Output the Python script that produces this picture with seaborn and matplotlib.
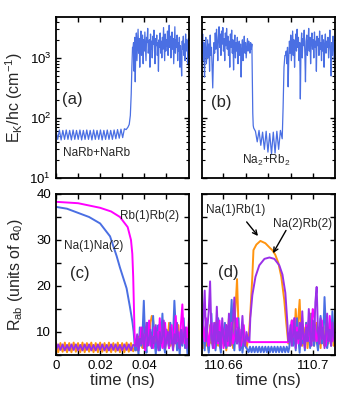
import numpy as np
import pandas as pd
import matplotlib
matplotlib.use("Agg")
import matplotlib.pyplot as plt
import seaborn as sns
from matplotlib.ticker import FixedLocator, MultipleLocator, LogLocator, NullFormatter

# %% data
# (a) kinetic energy, start of the run (cm^-1)
ek_a_low = [62, 44, 63, 43, 62, 44, 63, 44, 62, 43, 63, 44, 62, 44, 63, 43, 62, 44, 63, 44,
            62, 43, 63, 44, 62, 44, 63, 43, 62, 44, 63, 44, 62, 44, 63, 45, 64, 46, 65, 47, 66]
ek_a_rise_t = [0.0318, 0.0326, 0.0332, 0.0337, 0.0341, 0.0344, 0.0347]
ek_a_rise = [64, 70, 78, 110, 250, 700, 1500]
ek_a_high = [1400, 1800, 600, 2200, 400, 1500, 2600, 900, 1700, 3000, 1200, 2100, 700, 1900, 2800,
             1100, 1600, 2400, 800, 2000, 1300, 2700, 1500, 900, 2200, 1800, 3100, 1200, 1600, 2000,
             700, 2500, 1400, 1900, 1000, 2300, 1700, 2900, 1300, 800, 2100, 1600, 2400, 1100, 1800,
             600, 2000, 1500, 2600, 1200, 1900, 1000, 2200, 1400, 3200, 1700, 900, 2500, 1300, 2000,
             1600, 2800, 1100, 1800, 3500, 1500, 2300, 1000, 1900, 2700, 1400, 2100, 800, 1700, 3300,
             1200, 2000, 1500, 2400, 900, 1800, 1300, 2200, 700, 1600, 1000, 500, 1900, 1400, 2300,
             1100, 1700, 900, 2500, 1300, 2000, 1600, 800, 2100, 1500]

# (b) kinetic energy around 110.68 ns
ek_b_high1 = [1200, 2500, 900, 1800, 480, 1500, 2200, 800, 1300, 2000, 1000,
              1700, 600, 2400, 1100, 1500, 700, 316, 900, 1800, 1200,
              2600, 1400, 3000, 1800, 900, 2200, 3300, 1500, 2500, 1100, 2800, 1700, 3200, 1300, 2100,
              900, 2600, 1600, 3100, 1400,
              2300, 1100, 1900, 700, 2500, 1500, 2900, 1200, 2000, 630, 1600, 2400, 1000, 1800, 1300,
              2200, 800, 1500, 1900, 1100,
              1700, 480, 1400, 2000, 900, 1600, 2300, 1200, 1800, 1000, 1500, 2100, 1300, 1900, 1600,
              1200, 1800, 1400, 1700]
ek_b_drop_t = [110.6729, 110.6731, 110.6733]
ek_b_drop = [400, 120, 75]
ek_b_low = [68, 60, 40, 62, 35, 58, 30, 60, 27, 55, 25, 58, 26, 60, 30, 62, 45]
ek_b_rise_t = [110.6866, 110.6870, 110.6874]
ek_b_rise = [150, 700, 1100]
ek_b_high2 = [1100, 1300, 800, 1500, 330, 1000, 1900, 1200, 2400, 900,
              1600, 2800, 1100, 2000, 700, 1700, 2500, 1300, 3000, 1500,
              2200, 900, 1800, 207, 1400, 2600, 1000, 2100, 1600, 2900,
              1200, 400, 1900, 2400, 1100, 1700, 3100, 1300, 2200, 800,
              1800, 2600, 1400, 2000, 1000, 2700, 1500, 1900, 600, 2300,
              1600, 2100, 1100, 2800, 1400, 1800, 900, 2400, 1300, 2000,
              700, 1700, 2500, 1200, 1900, 1500, 2200, 1000, 1600, 2900,
              1300, 500, 1800, 1100, 2300, 1500, 900, 2000]

# (c) pair distances, start of the run (a0)
blue_c_drop_t = [0, 0.005, 0.010, 0.015, 0.020, 0.0245, 0.0275, 0.029, 0.031, 0.032, 0.0335,
                 0.0347, 0.0352, 0.0356, 0.0359]
blue_c_drop = [37.2, 36.8, 35.9, 35.0, 33.6, 30.8, 26.5, 24.0, 21.0, 19.5, 15.5, 12.0, 10.0, 7.5, 6.0]
magenta_c_drop_t = [0, 0.010, 0.020, 0.025, 0.029, 0.0325, 0.034, 0.0346, 0.035, 0.0353, 0.0356, 0.0359]
magenta_c_drop = [38.3, 38.0, 37.0, 36.2, 35.0, 32.8, 30.0, 27.0, 22.0, 16.0, 10.0, 7.0]
orange_c_zig = [7.7, 5.6, 7.6, 5.7, 7.7, 5.6, 7.6, 5.6, 7.7, 5.7, 7.6, 5.6, 7.7, 5.6, 7.6, 5.7, 7.7, 5.6,
                7.6, 5.6, 7.7, 5.7, 7.6, 5.6, 7.7, 5.6, 7.6, 5.7, 7.7, 5.6, 7.6, 5.6, 7.7, 5.7, 7.6, 5.8]
purple_c_zig = [6.0, 7.3, 6.1, 7.3, 6.0, 7.2, 6.0, 7.3, 6.1, 7.3, 6.0, 7.2, 6.0, 7.3, 6.1, 7.3, 6.0, 7.2,
                6.0, 7.3, 6.1, 7.3, 6.0, 7.2, 6.0, 7.3, 6.1, 7.3, 6.0, 7.2, 6.0, 7.3, 6.1, 7.3, 6.0, 7.2]
blue_c_noise = [6.0, 8.5, 5.0, 11.0, 7.0, 9.5, 16.8, 8.0, 5.5, 12.0, 7.5, 10.0, 6.5, 13.5, 8.0, 5.2, 9.0,
                11.5, 6.0, 8.5, 14.0, 7.0, 5.5, 10.5, 8.0, 6.5, 12.0, 7.5, 9.0, 16.8, 11.0, 6.0, 8.5,
                5.0, 10.0, 7.0, 13.0, 6.5, 9.0, 4.5, 8.0]
magenta_c_noise = [7.0, 9.0, 6.5, 8.0, 11.0, 7.5, 9.5, 6.0, 10.5, 8.0, 12.5, 7.0, 9.0, 6.5, 11.0, 8.5,
                   10.0, 7.0, 13.0, 8.0, 6.5, 9.5, 12.0, 7.5, 10.0, 6.5, 8.5, 11.5, 7.0, 9.0, 13.5, 8.0,
                   10.0, 7.0, 12.0, 16.0, 9.0, 7.5, 11.0, 8.0, 13.0]
orange_c_noise = [7.5, 6.0, 9.0, 7.0, 10.5, 6.5, 8.0, 11.0, 7.0, 9.5, 8.0, 12.0, 13.5, 12.5, 9.0, 7.0,
                  10.0, 6.5, 8.5, 11.0, 7.5, 9.0, 6.0, 10.5, 8.0, 12.0, 7.0, 9.5, 6.5, 8.0, 10.0, 7.5,
                  11.5, 6.5, 9.0, 8.0, 10.5, 7.0, 9.5, 6.5, 8.0]
purple_c_noise = [7.0, 9.5, 6.0, 8.5, 7.5, 11.0, 6.5, 9.0, 12.0, 7.0, 8.5, 10.5, 6.5, 9.0, 7.5, 11.5,
                  8.0, 6.0, 10.0, 7.5, 9.0, 12.5, 6.5, 8.0, 10.0, 7.0, 11.0, 8.5, 6.0, 9.5, 7.5, 12.0,
                  8.0, 6.5, 10.5, 7.5, 9.0, 11.0, 6.5, 8.5, 7.0]

# (d) pair distances around 110.68 ns
orange_d_pre = [8.0, 6.5, 10.0, 7.0, 9.0, 6.0, 11.5, 7.5, 8.5, 6.5, 12.0, 8.0, 7.0, 10.5, 6.5, 9.0,
                7.5, 11.0, 6.0, 8.5, 13.0, 7.0, 9.5, 6.5, 12.0, 16.0, 21.5, 12.0, 8.0, 6.5, 10.0, 7.5,
                9.0, 6.5, 8.0]
purple_d_pre = [9.0, 13.0, 19.0, 8.0, 11.0, 14.5, 21.0, 9.5, 6.5, 12.0, 7.5, 15.5, 8.0, 10.0, 6.5, 13.0,
                9.0, 7.0, 11.5, 8.0, 14.0, 7.0, 10.0, 12.5, 17.5, 9.0, 7.5, 11.0, 6.5, 9.0, 13.5, 8.0,
                7.0, 10.0, 8.5]
blue_d_pre = [7.5, 10.0, 6.0, 12.5, 8.0, 5.5, 9.5, 14.0, 7.0, 11.0, 6.0, 8.5, 13.0, 7.5, 5.5, 10.0,
              8.0, 12.0, 6.5, 9.0, 7.0, 11.5, 17.0, 8.5, 6.0, 10.5, 7.5, 13.0, 6.0, 9.0, 5.5, 8.0,
              7.0, 6.5, 6.0]
magenta_d_pre = [12.5, 11.0, 8.0, 13.0, 9.5, 7.0, 10.5, 12.0, 8.0, 6.5, 11.0, 9.0, 7.5, 12.5, 8.5, 10.0,
                 6.5, 9.5, 11.5, 7.0, 10.0, 8.5, 12.0, 7.5, 9.0, 11.0, 13.0, 8.0, 10.5, 7.0, 9.5, 11.5,
                 8.0, 9.0, 8.0]
orange_d_hump_t = [110.6712, 110.6720, 110.6729, 110.6734, 110.6747, 110.6765, 110.6787, 110.6809,
                   110.6818, 110.6831, 110.6845, 110.6858, 110.6871, 110.6880, 110.6889]
orange_d_hump = [8.0, 14.0, 22.0, 27.8, 29.0, 29.8, 29.3, 28.2, 27.8, 26.8, 25.0, 22.0, 17.0, 12.0, 7.5]
purple_d_hump_t = [110.6716, 110.6720, 110.6729, 110.6743, 110.6760, 110.6783, 110.6805, 110.6827,
                   110.6849, 110.6863, 110.6876, 110.6885, 110.6889]
purple_d_hump = [8.0, 13.0, 18.0, 22.0, 24.5, 25.9, 26.2, 25.9, 24.5, 22.5, 18.5, 12.0, 8.0]
magenta_d_flat_t = [110.6716, 110.6889]
magenta_d_flat = [7.8, 7.8]
blue_d_zig = [5.6, 6.8, 5.6, 6.8, 5.6, 6.8, 5.6, 6.8, 5.6, 6.8, 5.6, 6.8, 5.6, 6.8, 5.6, 6.8,
              5.6, 6.8, 5.6, 6.8, 5.6, 6.8, 5.6, 6.8, 5.6, 6.8, 5.6]
orange_d_post = [7.5, 10.0, 8.0, 12.5, 9.0, 15.0, 10.0, 13.0, 17.0, 9.5, 7.0, 11.0, 8.0, 12.0, 6.5, 9.5,
                 14.0, 8.0, 10.5, 7.0, 9.0, 12.0, 7.5, 10.0, 6.5, 11.5, 8.5, 7.0, 13.0, 9.0, 7.5, 10.5,
                 8.0, 12.0, 7.0, 9.0]
purple_d_post = [8.0, 11.5, 7.0, 9.5, 13.0, 6.5, 10.0, 8.5, 12.0, 7.0, 14.5, 9.0, 6.5, 11.0, 8.0, 15.0,
                 9.5, 7.0, 12.5, 8.0, 16.5, 19.8, 10.0, 7.5, 13.0, 8.5, 11.0, 6.5, 9.5, 14.0, 8.0, 10.5,
                 7.0, 12.0, 9.0, 8.0]
blue_d_post = [6.5, 9.0, 12.5, 7.0, 10.0, 6.0, 13.0, 8.5, 5.5, 11.0, 7.5, 9.5, 6.0, 12.0, 8.0, 10.5,
               6.5, 14.0, 9.0, 7.0, 11.5, 8.0, 6.0, 10.0, 13.5, 7.5, 9.0, 17.6, 11.0, 6.5, 8.5, 12.0,
               7.0, 14.5, 9.0, 7.5]
magenta_d_post = [8.0, 10.5, 12.5, 9.0, 13.0, 8.0, 11.0, 7.5, 10.0, 12.0, 8.5, 9.5, 7.0, 11.5, 9.0, 12.5,
                  8.0, 10.5, 15.0, 14.0, 9.5, 8.0, 11.0, 7.5, 10.0, 12.5, 8.5, 9.0, 7.0, 11.0, 8.0, 13.5,
                  9.5, 8.0, 10.5, 9.0]

pairs = ["Na(1)Rb(1)", "Na(1)Na(2)", "Rb(1)Rb(2)", "Na(2)Rb(2)"]
colors = {"Na(1)Rb(1)": "#ff9410", "Na(1)Na(2)": "#4a6fe3",
          "Rb(1)Rb(2)": "#ff00ff", "Na(2)Rb(2)": "#9a30e8"}


def span(start, stop, vals):
    return list(np.linspace(start, stop, len(vals)))


# %% assemble long tables
ek_a = pd.DataFrame({
    "t": span(0, 0.0310, ek_a_low) + ek_a_rise_t + span(0.0349, 0.0603, ek_a_high),
    "ek": ek_a_low + ek_a_rise + ek_a_high,
})
ek_b = pd.DataFrame({
    "t": span(110.6505, 110.6727, ek_b_high1) + ek_b_drop_t + span(110.6735, 110.6862, ek_b_low)
         + ek_b_rise_t + span(110.6877, 110.7097, ek_b_high2),
    "ek": ek_b_high1 + ek_b_drop + ek_b_low + ek_b_rise + ek_b_high2,
})

noise_c_t = (0.0362, 0.0603)
rows_c = []
for name, t, r in [
    ("Na(1)Rb(1)", span(0, 0.035, orange_c_zig) + span(*noise_c_t, orange_c_noise), orange_c_zig + orange_c_noise),
    ("Na(1)Na(2)", blue_c_drop_t + span(*noise_c_t, blue_c_noise), blue_c_drop + blue_c_noise),
    ("Rb(1)Rb(2)", magenta_c_drop_t + span(*noise_c_t, magenta_c_noise), magenta_c_drop + magenta_c_noise),
    ("Na(2)Rb(2)", span(0, 0.035, purple_c_zig) + span(*noise_c_t, purple_c_noise), purple_c_zig + purple_c_noise),
]:
    rows_c.append(pd.DataFrame({"t": t, "r": r, "pair": name}))
dist_c = pd.concat(rows_c, ignore_index=True)

pre_t = (110.6505, 110.6709)
post_t = (110.6893, 110.7097)
rows_d = []
for name, t, r in [
    ("Na(1)Rb(1)", span(*pre_t, orange_d_pre) + orange_d_hump_t + span(*post_t, orange_d_post),
     orange_d_pre + orange_d_hump + orange_d_post),
    ("Na(1)Na(2)", span(*pre_t, blue_d_pre) + span(110.6712, 110.6889, blue_d_zig) + span(*post_t, blue_d_post),
     blue_d_pre + blue_d_zig + blue_d_post),
    ("Rb(1)Rb(2)", span(*pre_t, magenta_d_pre) + magenta_d_flat_t + span(*post_t, magenta_d_post),
     magenta_d_pre + magenta_d_flat + magenta_d_post),
    ("Na(2)Rb(2)", span(*pre_t, purple_d_pre) + purple_d_hump_t + span(*post_t, purple_d_post),
     purple_d_pre + purple_d_hump + purple_d_post),
]:
    rows_d.append(pd.DataFrame({"t": t, "r": r, "pair": name}))
dist_d = pd.concat(rows_d, ignore_index=True)

# %% style
sns.set_style("ticks")
plt.rcParams["font.family"] = ["Liberation Sans", "DejaVu Sans"]
plt.rcParams["mathtext.default"] = "regular"
plt.rcParams.update({
    "xtick.direction": "in", "ytick.direction": "in",
    "xtick.top": True, "ytick.right": True,
    "axes.linewidth": 1.3, "axes.edgecolor": "black",
    "xtick.color": "black", "ytick.color": "black",
    "xtick.labelsize": 9.5, "ytick.labelsize": 9.5,
    "xtick.major.size": 3.5, "ytick.major.size": 3.5,
    "xtick.minor.size": 3.5, "ytick.minor.size": 2.2,
    "xtick.major.width": 1.0, "ytick.major.width": 1.0,
    "xtick.minor.width": 1.0, "ytick.minor.width": 0.8,
})

fig = plt.figure(figsize=(3.49, 3.97), dpi=100)
W, H = 349, 397
ax_a = fig.add_axes([56 / W, (H - 178) / H, 133 / W, 161 / H])
ax_b = fig.add_axes([202 / W, (H - 178) / H, 133 / W, 161 / H])
ax_c = fig.add_axes([56 / W, (H - 355) / H, 133 / W, 161 / H])
ax_d = fig.add_axes([202 / W, (H - 355) / H, 133 / W, 161 / H])

blue = colors["Na(1)Na(2)"]
sns.lineplot(data=ek_a, x="t", y="ek", ax=ax_a, color=blue, lw=0.9, estimator=None, sort=False)
sns.lineplot(data=ek_b, x="t", y="ek", ax=ax_b, color=blue, lw=0.9, estimator=None, sort=False)
for ax, df in [(ax_c, dist_c), (ax_d, dist_d)]:
    sns.lineplot(data=df, x="t", y="r", hue="pair", hue_order=pairs, palette=colors, ax=ax,
                 lw=1.4, estimator=None, sort=False, legend=False)

# %% axes
for ax in (ax_a, ax_b):
    ax.set_yscale("log")
    ax.set_ylim(10, 4800)
    ax.yaxis.set_major_locator(LogLocator(base=10, numticks=5))
    ax.yaxis.set_minor_locator(LogLocator(base=10, subs=np.arange(2, 10), numticks=12))
    ax.yaxis.set_minor_formatter(NullFormatter())
for ax in (ax_c, ax_d):
    ax.set_ylim(5, 40)
    ax.yaxis.set_major_locator(MultipleLocator(10))
    ax.yaxis.set_minor_locator(MultipleLocator(5))
    ax.tick_params(axis="y", which="minor", length=3.5, width=1.0)
for ax in (ax_a, ax_c):
    ax.set_xlim(0, 0.0603)
    ax.xaxis.set_major_locator(FixedLocator([0, 0.02, 0.04]))
    ax.xaxis.set_minor_locator(FixedLocator([0.01, 0.03, 0.05]))
for ax in (ax_b, ax_d):
    ax.set_xlim(110.6505, 110.7097)
    ax.xaxis.set_major_locator(FixedLocator([110.66, 110.70]))
    ax.xaxis.set_minor_locator(FixedLocator([110.67, 110.68, 110.69]))

ax_c.set_xticklabels(["0", "0.02", "0.04"])
ax_d.set_xticklabels(["110.66", "110.7"])
ax_a.tick_params(labelbottom=False)
ax_b.tick_params(labelbottom=False, labelleft=False)
ax_d.tick_params(labelleft=False)

for ax in (ax_a, ax_b, ax_c, ax_d):
    ax.set_xlabel("")
    ax.set_ylabel("")
ax_c.set_xlabel("time (ns)", fontsize=12, labelpad=1)
ax_d.set_xlabel("time (ns)", fontsize=12, labelpad=1)
ax_a.set_ylabel("E$_K$/hc (cm$^{-1}$)", fontsize=11.5)
ax_c.set_ylabel("R$_{ab}$ (units of a$_0$)", fontsize=11.5)
ax_a.yaxis.set_label_coords(-0.23, 0.5)
ax_c.yaxis.set_label_coords(-0.23, 0.5)

# %% labels
ax_a.text(0.0025, 200, "(a)", fontsize=12, va="center")
ax_a.text(0.003, 26, "NaRb+NaRb", fontsize=8.5, va="center")
ax_b.text(110.6547, 180, "(b)", fontsize=12, va="center")
ax_b.text(110.6791, 19.5, "Na$_2$+Rb$_2$", fontsize=8.5, ha="center", va="center")
ax_c.text(0.0063, 22.8, "(c)", fontsize=12, va="center")
ax_c.text(0.0289, 35.2, "Rb(1)Rb(2)", fontsize=8.5, va="center")
ax_c.text(0.0036, 28.7, "Na(1)Na(2)", fontsize=8.5, va="center")
ax_d.text(110.6574, 23.0, "(d)", fontsize=12, va="center")
ax_d.text(110.6654, 36.5, "Na(1)Rb(1)", fontsize=8.5, ha="center", va="center")
ax_d.text(110.6951, 33.5, "Na(2)Rb(2)", fontsize=8.5, ha="center", va="center")
ax_d.annotate("", xy=(110.6762, 30.4), xytext=(110.6696, 34.4),
              arrowprops=dict(arrowstyle="->", lw=1.0, color="black", mutation_scale=8))
ax_d.annotate("", xy=(110.6815, 26.6), xytext=(110.6885, 32.6),
              arrowprops=dict(arrowstyle="->", lw=1.0, color="black", mutation_scale=8))

fig.savefig("out.png", dpi=100)
